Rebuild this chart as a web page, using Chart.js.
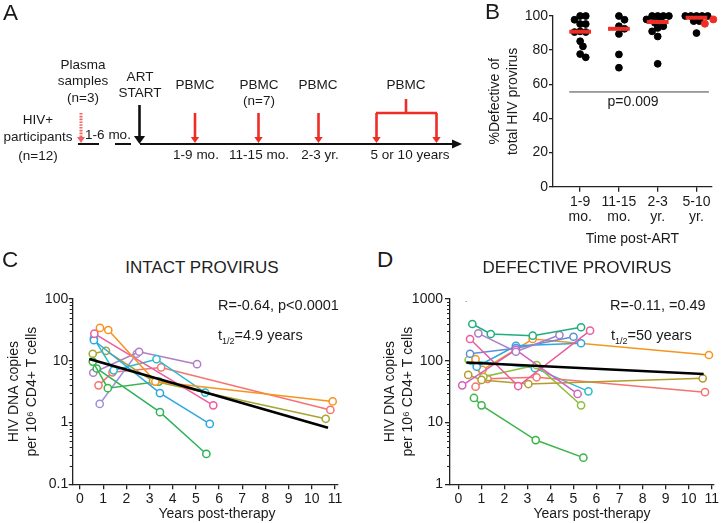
<!DOCTYPE html>
<html>
<head>
<meta charset="utf-8">
<script src="https://cdn.jsdelivr.net/npm/chart.js@4"></script>
<style>
  body { margin: 0; background: #fff; }
  #fig { position: relative; width: 727px; height: 523px; overflow: hidden;
         font-family: "Liberation Sans", Arial, sans-serif; color: #1a1a1a; }
  #fig canvas { position: absolute; }
  .txt { position: absolute; line-height: 1; white-space: nowrap; }
  .letter { font-size: 22.5px; }
  .ttl { font-size: 17px; color: #222; }
  .note { font-size: 14.5px; }
  .sub { font-size: 9px; position: relative; top: 4px; }
</style>
</head>
<body>
<div id="fig">
  <canvas id="chartA" width="470" height="180" style="left:0;top:0"></canvas>
  <canvas id="chartB" width="257" height="260" style="left:470px;top:0"></canvas>
  <canvas id="chartC" width="350" height="243" style="left:0;top:280px"></canvas>
  <canvas id="chartD" width="362" height="243" style="left:365px;top:280px"></canvas>

  <div class="txt letter" style="left:3px;top:2px">A</div>
  <div class="txt letter" style="left:485px;top:1px">B</div>
  <div class="txt letter" style="left:2px;top:249px">C</div>
  <div class="txt letter" style="left:377px;top:249px">D</div>

  <div class="txt ttl" style="left:202px;top:259px;transform:translateX(-50%)">INTACT PROVIRUS</div>
  <div class="txt ttl" style="left:577px;top:259px;transform:translateX(-50%)">DEFECTIVE PROVIRUS</div>

  <div class="txt note" style="left:218px;top:298px">R=-0.64, p&lt;0.0001</div>
  <div class="txt note" style="left:218px;top:328px">t<span class="sub">1/2</span>=4.9 years</div>
  <div class="txt note" style="left:610px;top:298px">R=-0.11, =0.49</div>
  <div class="txt note" style="left:611px;top:328px">t<span class="sub">1/2</span>=50 years</div>
  <div class="txt" style="left:465px;top:296px;font-size:8px">.</div>

  <div class="txt" style="left:633px;top:94px;font-size:14px;transform:translateX(-50%)">p=0.009</div>
  <div class="txt" style="left:217px;top:506px;font-size:14px;transform:translateX(-50%)">Years post-therapy</div>
  <div class="txt" style="left:592px;top:506px;font-size:14px;transform:translateX(-50%)">Years post-therapy</div>
</div>

<script>
// ---- B: % defective of total HIV provirus by time on ART ----
var timeLabels = [['1-9', 'mo.'], ['11-15', 'mo.'], ['2-3', 'yr.'], ['5-10', 'yr.']];
var defective1to9mo = [100, 100, 97.8, 95.3, 95.3, 91, 90.6, 90.6, 85.2, 82.2, 77.7, 75.8];
var defective11to15mo = [100, 97.8, 94, 92.5, 89.5, 77.5, 69.7];
var defective2to3yr = [100, 100, 100, 100, 98, 97, 96, 94, 93, 91, 88, 72];
var defective5to10yr = [100, 100, 100, 100, 100, 97, 97, 90];
var defective10yrRed = [98, 95.5];
var pValueLineY = 55.5;

// ---- C: intact provirus, copies per 10^6 CD4+ T cells ----
var intactYears = [
  [0.86, 1.22, 3.25, 10.9],
  [0.62, 5.75],
  [0.6, 3.45, 5.6],
  [0.6, 1.45, 3.3, 5.4],
  [0.55, 1.12, 3.15, 10.6],
  [0.55, 1.2, 3.4],
  [0.72, 3.45, 5.45],
  [0.57, 2.55, 5.05],
  [0.85, 2.45],
  [0.8, 1.4, 3.5, 10.8]
];
var intactCopies = [
  [34, 31.5, 4.6, 2.2],
  [27.5, 1.9],
  [21.5, 3.0, 0.95],
  [23, 7.0, 10.6, 3.05],
  [13, 14.5, 4.7, 1.15],
  [9.7, 3.6, 4.6],
  [7.5, 1.47, 0.31],
  [6.4, 14, 8.8],
  [2.0, 13],
  [4.0, 6.5, 7.8, 1.6]
];
var intactFitYears = [0.4, 10.7];
var intactFitCopies = [10.7, 0.82];

// ---- D: defective provirus, copies per 10^6 CD4+ T cells ----
var defectiveYears = [
  [0.61, 1.41, 3.23, 5.33],
  [0.87, 2.5, 4.39],
  [0.51, 2.6, 5.72],
  [0.17, 2.5, 5.18],
  [0.51, 2.5, 5.0],
  [0.8, 2.5, 5.33],
  [0.75, 1.05, 3.23, 10.88],
  [0.43, 1.01, 3.04, 10.61],
  [0.45, 1.09, 3.4, 5.33],
  [0.75, 1.27, 3.4, 10.71],
  [0.55, 3.33, 5.65],
  [0.68, 1.01, 3.36, 5.43]
];
var defectiveCopies = [
  [394, 271, 255, 349],
  [278, 140, 261],
  [225, 39, 307],
  [40, 150, 29],
  [130, 160, 245],
  [80, 175, 192],
  [106, 71, 225, 124],
  [59, 49, 42, 52],
  [103, 55, 85, 19],
  [38, 51, 54, 31],
  [100, 76, 32],
  [25, 19, 5.2, 2.7]
];
var defectiveFitYears = [0.35, 10.65];
var defectiveFitCopies = [94, 61];

var intactColors = ['#F7941D', '#EE5A9E', '#2EA7E0', '#27BCCF', '#A7A531', '#3AB54A',
                    '#2DB25B', '#B07CC6', '#9F8FE0', '#F4736E'];
var defectiveColors = ['#1FAF7A', '#A97CCB', '#EE5A9E', '#D45FC0', '#5B8FD9', '#2EA7E0',
                       '#F7941D', '#B39C2B', '#8BBF3C', '#F4736E', '#27BCCF', '#3AB54A'];

Chart.defaults.font.family = '"Liberation Sans", Arial, sans-serif';
Chart.defaults.color = '#1a1a1a';
Chart.defaults.animation = false;
Chart.defaults.plugins.legend.display = false;
Chart.defaults.plugins.tooltip.enabled = false;

var AXIS = '#222';
var RED = '#EE2D24';

function fixWidth(w) { return function (s) { s.width = w; }; }
function fixHeight(h) { return function (s) { s.height = h; }; }

// ---------------- Panel A: study timeline ----------------
var timelinePlugin = {
  id: 'timeline',
  afterDraw: function (chart) {
    var ctx = chart.ctx, sx = chart.scales.x, sy = chart.scales.y;
    function X(v) { return sx.getPixelForValue(v); }
    function Y(v) { return sy.getPixelForValue(v); }
    function text(str, x, y) { ctx.fillText(str, X(x), Y(y)); }
    function arrow(x, y1, y2, color, w, head) {
      ctx.strokeStyle = color; ctx.fillStyle = color; ctx.lineWidth = w;
      ctx.beginPath(); ctx.moveTo(X(x), Y(y1)); ctx.lineTo(X(x), Y(y2) - head); ctx.stroke();
      ctx.beginPath();
      ctx.moveTo(X(x) - head * 0.7, Y(y2) - head);
      ctx.lineTo(X(x) + head * 0.7, Y(y2) - head);
      ctx.lineTo(X(x), Y(y2));
      ctx.closePath(); ctx.fill();
    }
    ctx.save();
    ctx.font = '13.5px "Liberation Sans", Arial, sans-serif';
    ctx.fillStyle = '#1a1a1a';
    ctx.textAlign = 'center';
    ctx.textBaseline = 'middle';

    text('Plasma', 83, 65); text('samples', 83, 81.5); text('(n=3)', 83, 98);
    text('HIV+', 38, 120); text('participants', 38, 137); text('(n=12)', 38, 156);
    text('ART', 140, 77); text('START', 140, 93);
    text('1-6 mo.', 108, 135);
    text('PBMC', 195, 85);
    text('PBMC', 259, 85); text('(n=7)', 259, 101.5);
    text('PBMC', 318, 85);
    text('PBMC', 406, 85);
    text('1-9 mo.', 196, 155);
    text('11-15 mo.', 259, 155);
    text('2-3 yr.', 320, 155);
    text('5 or 10 years', 410, 155);

    // timeline axis
    ctx.strokeStyle = '#111'; ctx.fillStyle = '#111'; ctx.lineWidth = 1.8;
    ctx.beginPath(); ctx.moveTo(X(140), Y(144)); ctx.lineTo(X(455), Y(144)); ctx.stroke();
    ctx.beginPath(); ctx.moveTo(X(462), Y(144)); ctx.lineTo(X(452), Y(139.5)); ctx.lineTo(X(452), Y(148.5));
    ctx.closePath(); ctx.fill();
    ctx.beginPath(); ctx.moveTo(X(78), Y(144)); ctx.lineTo(X(99), Y(144));
    ctx.moveTo(X(115), Y(144)); ctx.lineTo(X(131), Y(144)); ctx.stroke();

    // ART start
    arrow(139.5, 105, 144, '#111', 2.6, 8);

    // plasma sample (dashed)
    ctx.setLineDash([1.6, 1.2]);
    ctx.strokeStyle = '#F26464'; ctx.lineWidth = 3;
    ctx.beginPath(); ctx.moveTo(X(81), Y(113)); ctx.lineTo(X(81), Y(137)); ctx.stroke();
    ctx.setLineDash([]);
    ctx.fillStyle = '#F26464';
    ctx.beginPath(); ctx.moveTo(X(77), Y(137)); ctx.lineTo(X(85), Y(137)); ctx.lineTo(X(81), Y(143)); ctx.closePath(); ctx.fill();

    // PBMC arrows
    arrow(195, 113, 143, RED, 2.6, 6);
    arrow(258.5, 113, 143, RED, 2.6, 6);
    arrow(318.5, 113, 143, RED, 2.6, 6);

    // bracket for 5 or 10 years
    ctx.strokeStyle = RED; ctx.lineWidth = 2.6;
    ctx.beginPath();
    ctx.moveTo(X(406), Y(99)); ctx.lineTo(X(406), Y(113));
    ctx.moveTo(X(376), Y(113)); ctx.lineTo(X(437), Y(113));
    ctx.stroke();
    arrow(376.5, 113, 143, RED, 2.6, 6);
    arrow(436.5, 113, 143, RED, 2.6, 6);
    ctx.restore();
  }
};

new Chart(document.getElementById('chartA'), {
  type: 'scatter',
  data: { datasets: [] },
  options: {
    responsive: false,
    layout: { padding: 0 },
    scales: {
      x: { type: 'linear', min: 0, max: 470, display: false },
      y: { type: 'linear', min: 0, max: 180, reverse: true, display: false }
    }
  },
  plugins: [timelinePlugin]
});

// ---------------- Panel B: beeswarm ----------------
var PX_PER_X = 38.8, PX_PER_Y = 1.707;
function swarm(values, center) {
  var placed = [], out = new Array(values.length);
  var idx = values.map(function (v, i) { return i; })
    .sort(function (a, b) { return values[b] - values[a]; });
  idx.forEach(function (i) {
    var py = values[i] * PX_PER_Y;
    for (var k = 0; k < 40; k++) {
      var px = (k % 2 ? 1 : -1) * Math.ceil(k / 2) * 2.8;
      var ok = placed.every(function (p) { return Math.hypot(p.x - px, p.y - py) >= 5.6; });
      if (ok) {
        placed.push({ x: px, y: py });
        out[i] = { x: center + px / PX_PER_X, y: values[i] };
        break;
      }
    }
  });
  return out;
}
function median(a) {
  var s = a.slice().sort(function (p, q) { return p - q; });
  var m = Math.floor(s.length / 2);
  return s.length % 2 ? s[m] : (s[m - 1] + s[m]) / 2;
}

var groups = [defective1to9mo, defective11to15mo, defective2to3yr, defective5to10yr];
var blackPts = [], redPts = [];
groups.forEach(function (g, i) {
  var vals = i === 3 ? defective10yrRed.concat(g) : g;
  var pts = swarm(vals, i);
  if (i === 3) {
    redPts = pts.slice(0, defective10yrRed.length);
    blackPts = blackPts.concat(pts.slice(defective10yrRed.length));
  } else {
    blackPts = blackPts.concat(pts);
  }
});
var medianSets = groups.map(function (g, i) {
  var all = i === 3 ? g.concat(defective10yrRed) : g;
  var m = median(all);
  return {
    data: [{ x: i - 0.28, y: m }, { x: i + 0.28, y: m }],
    showLine: true, borderColor: RED, borderWidth: 4, pointRadius: 0, clip: false, order: -2
  };
});

new Chart(document.getElementById('chartB'), {
  type: 'scatter',
  data: {
    datasets: medianSets.concat([
      { data: redPts, backgroundColor: RED, borderColor: RED, pointRadius: 3.5, clip: false, order: -1 },
      { data: blackPts, backgroundColor: '#000', borderColor: '#000', pointRadius: 3.4, clip: false },
      { data: [{ x: -0.28, y: pValueLineY }, { x: 3.32, y: pValueLineY }], showLine: true,
        borderColor: '#444', borderWidth: 1, pointRadius: 0 }
    ])
  },
  options: {
    responsive: false,
    layout: { padding: { top: 16, right: 15, left: 0, bottom: 0 } },
    scales: {
      x: {
        type: 'linear', min: -0.7, max: 3.4,
        afterBuildTicks: function (s) { s.ticks = [0, 1, 2, 3].map(function (v) { return { value: v }; }); },
        afterFit: fixHeight(73.3),
        ticks: { font: { size: 14, lineHeight: 1.08 }, padding: 3, maxRotation: 0, autoSkip: false,
                 callback: function (v) { return timeLabels[v]; } },
        grid: { drawOnChartArea: false, tickLength: 5, color: AXIS, lineWidth: 1.3 },
        border: { color: AXIS, width: 1.3 },
        title: { display: true, text: 'Time post-ART', font: { size: 14 }, padding: { top: 0, bottom: 12 } }
      },
      y: {
        min: 0, max: 100,
        afterFit: fixWidth(83),
        ticks: { stepSize: 20, font: { size: 14 }, padding: 1 },
        grid: { drawOnChartArea: false, tickLength: 4, color: AXIS, lineWidth: 1.3 },
        border: { color: AXIS, width: 1.3 },
        title: { display: true, text: ['%Defective of', 'total HIV provirus'],
                 font: { size: 14, lineHeight: 1.3 }, padding: { top: 16, bottom: 0 } }
      }
    }
  }
});

// ---------------- Panels C and D: log-scale trajectories ----------------
var logMinorTicks = {
  id: 'logMinorTicks',
  afterDraw: function (chart) {
    var y = chart.scales.y, ctx = chart.ctx, x0 = chart.chartArea.left;
    ctx.save();
    ctx.strokeStyle = AXIS; ctx.lineWidth = 1;
    for (var d = Math.round(Math.log10(y.min)); d < Math.round(Math.log10(y.max)); d++) {
      for (var k = 2; k <= 9; k++) {
        var py = Math.round(y.getPixelForValue(k * Math.pow(10, d))) + 0.5;
        ctx.beginPath(); ctx.moveTo(x0, py); ctx.lineTo(x0 - 3, py); ctx.stroke();
      }
    }
    ctx.restore();
  }
};

function trajectorySets(years, copies, colors) {
  return years.map(function (xs, i) {
    return {
      data: xs.map(function (x, j) { return { x: x, y: copies[i][j] }; }),
      showLine: true, borderColor: colors[i], borderWidth: 1.5,
      pointRadius: 3.6, pointBorderWidth: 1.5,
      pointBorderColor: colors[i], pointBackgroundColor: '#fff', clip: false
    };
  });
}
function fitSet(xs, ys) {
  return {
    data: xs.map(function (x, i) { return { x: x, y: ys[i] }; }),
    showLine: true, borderColor: '#000', borderWidth: 2.6, pointRadius: 0, order: -1
  };
}

function logChart(id, sets, yMin, yMax, xMin, xMax, yWidth, rightPad, yTickLen, yTickPad, titlePad) {
  var majors = [];
  for (var v = yMin; v <= yMax * 1.001; v *= 10) majors.push(v);
  return new Chart(document.getElementById(id), {
    type: 'scatter',
    data: { datasets: sets },
    options: {
      responsive: false,
      layout: { padding: { top: 19, right: rightPad, left: 0, bottom: 0 } },
      scales: {
        x: {
          type: 'linear', min: xMin, max: xMax,
          afterBuildTicks: function (s) {
            s.ticks = [];
            for (var t = 0; t <= 11; t++) s.ticks.push({ value: t });
          },
          afterFit: fixHeight(38.7),
          ticks: { font: { size: 14 }, padding: 1.5, maxRotation: 0, autoSkip: false },
          grid: { drawOnChartArea: false, tickLength: 5, color: AXIS, lineWidth: 1.3 },
          border: { color: AXIS, width: 1.3 }
        },
        y: {
          type: 'logarithmic', min: yMin, max: yMax,
          afterBuildTicks: function (s) { s.ticks = majors.map(function (m) { return { value: m }; }); },
          afterFit: fixWidth(yWidth),
          ticks: { font: { size: 14 }, padding: yTickPad,
                   callback: function (val) { return val < 1 ? val.toFixed(1) : String(Math.round(val)); } },
          grid: { drawOnChartArea: false, tickLength: yTickLen, color: AXIS, lineWidth: 1.3 },
          border: { color: AXIS, width: 1.3 },
          title: { display: true, text: ['HIV DNA copies', 'per 10\u2076 CD4+ T cells'],
                   font: { size: 14, lineHeight: 1.3 }, padding: { top: titlePad, bottom: 0 } }
        }
      }
    },
    plugins: [logMinorTicks]
  });
}

logChart('chartC',
  [fitSet(intactFitYears, intactFitCopies)].concat(trajectorySets(intactYears, intactCopies, intactColors)),
  0.1, 100, -0.315, 11.1, 72.7, 12.7, 4, 0.5, 5);

logChart('chartD',
  [fitSet(defectiveFitYears, defectiveFitCopies)].concat(trajectorySets(defectiveYears, defectiveCopies, defectiveColors)),
  1, 1000, -0.36, 11.07, 85, 13.7, 5, 2, 16);
</script>
</body>
</html>
